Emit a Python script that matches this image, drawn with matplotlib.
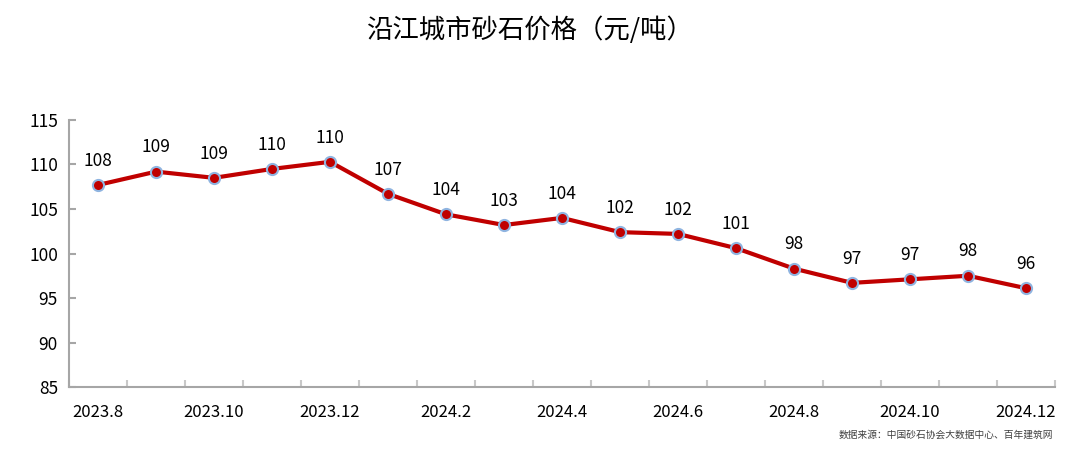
import matplotlib.pyplot as plt
import numpy as np

plt.rcParams['font.family'] = ['Noto Sans CJK SC', 'DejaVu Sans']

# 月份与价格（元/吨）
months = ["2023.8", "2023.9", "2023.10", "2023.11", "2023.12", "2024.1", "2024.2", "2024.3",
          "2024.4", "2024.5", "2024.6", "2024.7", "2024.8", "2024.9", "2024.10", "2024.11", "2024.12"]
price = [107.7, 109.2, 108.5, 109.5, 110.3, 106.7, 104.4, 103.2,
         104.0, 102.4, 102.2, 100.6, 98.3, 96.7, 97.1, 97.5, 96.1]
labels = [108, 109, 109, 110, 110, 107, 104, 103, 104, 102, 102, 101, 98, 97, 97, 98, 96]

fig = plt.figure(figsize=(10.8, 4.66), dpi=100)
ax = fig.add_axes([0.0639, 0.1695, 0.913, 0.573])

x = np.arange(len(months))
ax.plot(x, price, color="#C00000", lw=3, marker="o", ms=8,
        mfc="#C00000", mec="#8FB4E0", mew=1.5, zorder=3)

for xi, yi, lab in zip(x, price, labels):
    ax.annotate(str(lab), (xi, yi), xytext=(0, 11), textcoords="offset points",
                ha="center", va="bottom", fontsize=12.5, color="#000000")

ax.set_xlim(-0.5, len(months) - 0.5)
ax.set_ylim(85, 115)
ax.set_yticks(np.arange(85, 116, 5))
ax.set_xticks(x[::2])
ax.set_xticklabels(months[::2])
ax.set_xticks(np.arange(-0.5, len(months), 1), minor=True)

for s in ["top", "right"]:
    ax.spines[s].set_visible(False)
for s in ["left", "bottom"]:
    ax.spines[s].set_color("#A6A6A6")
    ax.spines[s].set_linewidth(1.5)

ax.tick_params(axis="y", direction="in", length=5, width=1.5, color="#A6A6A6",
               labelsize=12.5, pad=8)
ax.tick_params(axis="x", which="major", length=0, labelsize=12, pad=12)
ax.tick_params(axis="x", which="minor", direction="in", length=5, width=1.5, color="#C8C8C8")

fig.text(0.49, 0.935, "沿江城市砂石价格（元/吨）", ha="center", va="center",
         fontsize=19, color="#000000")
fig.text(0.975, 0.068, "数据来源：中国砂石协会大数据中心、百年建筑网", ha="right", va="center",
         fontsize=7, color="#404040")

fig.savefig("out.png", dpi=100)
